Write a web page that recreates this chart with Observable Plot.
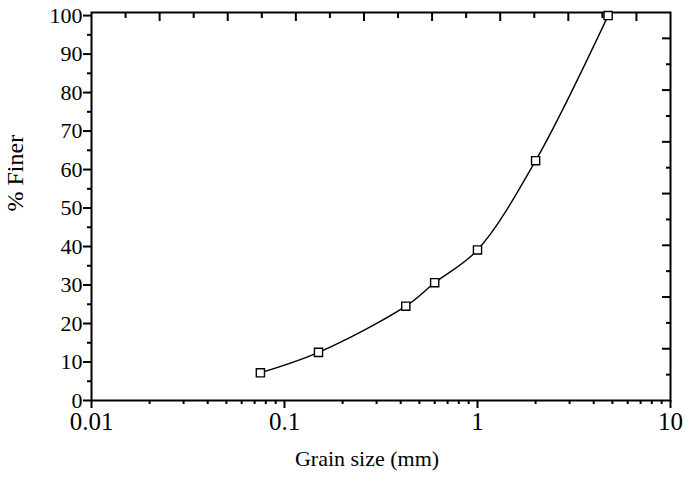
<!DOCTYPE html>
<html>
<head>
<meta charset="utf-8">
<script src="https://cdn.jsdelivr.net/npm/d3@7"></script>
<script src="https://cdn.jsdelivr.net/npm/@observablehq/plot@0.6"></script>
<style>
  html, body { margin: 0; padding: 0; background: #fff; }
  #chart svg { display: block; }
</style>
</head>
<body>
<div id="chart"></div>
<script>
// Data
const grainSize = [0.075, 0.15, 0.425, 0.6, 1.0, 2.0, 4.75];
const percentFiner = [7.2, 12.5, 24.5, 30.6, 39.1, 62.3, 100];

// Tick values
const xMajorTicks = [0.01, 0.1, 1, 10];
const xMinorTicks = [2,3,4,5,6,7,8,9].flatMap(m => [0.01, 0.1, 1].map(d => +(m * d).toFixed(4)));
const yMajorTicks = [0, 10, 20, 30, 40, 50, 60, 70, 80, 90, 100];
const yMinorTicks = [5, 15, 25, 35, 45, 55, 65, 75, 85, 95];

// Unlabelled opposite axes (evenly divided: 17 intervals on top, 15 on the right)
const topIntervals = 17;
const rightIntervals = 15;
const xDomain = [0.01, 10];
const yDomain = [0, 100.8];
const topTicks = d3.range(1, topIntervals).map(k => 10 ** (Math.log10(xDomain[0]) + k * (Math.log10(xDomain[1]) - Math.log10(xDomain[0])) / topIntervals));
const topLong = topTicks.filter((_, i) => (i + 1) % 2 === 0);
const topShort = topTicks.filter((_, i) => (i + 1) % 2 === 1);
const rightTicks = d3.range(1, rightIntervals).map(k => yDomain[0] + k * (yDomain[1] - yDomain[0]) / rightIntervals);
const rightLong = rightTicks.filter((_, i) => (i + 1) % 2 === 0);
const rightShort = rightTicks.filter((_, i) => (i + 1) % 2 === 1);

const data = grainSize.map((g, i) => ({size: g, finer: percentFiner[i]}));

const font = "Liberation Serif";
const empty = () => "";

const chart = Plot.plot({
  width: 685,
  height: 481,
  marginLeft: 91,
  marginRight: 15,
  marginTop: 12,
  marginBottom: 81,
  style: {fontFamily: font, background: "#fff", color: "#000"},
  x: {type: "log", domain: xDomain, axis: null},
  y: {domain: yDomain, axis: null},
  marks: [
    Plot.frame({stroke: "#000", strokeWidth: 2}),
    Plot.axisX(xMajorTicks, {tickSize: 8, strokeWidth: 2, fontSize: 25, tickPadding: 4, tickFormat: d => String(d), label: null, fontFamily: font}),
    Plot.axisX(xMinorTicks, {tickSize: 4, strokeWidth: 2, tickFormat: empty, label: null}),
    Plot.axisX(topLong, {anchor: "top", tickSize: -8, strokeWidth: 2, tickFormat: empty, label: null}),
    Plot.axisX(topShort, {anchor: "top", tickSize: -5, strokeWidth: 2, tickFormat: empty, label: null}),
    Plot.axisY(yMajorTicks, {tickSize: 8, strokeWidth: 2, fontSize: 22, tickPadding: 1, tickFormat: d => String(d), label: null, fontFamily: font}),
    Plot.axisY(yMinorTicks, {tickSize: 4, strokeWidth: 2, tickFormat: empty, label: null}),
    Plot.axisY(rightLong, {anchor: "right", tickSize: -9, strokeWidth: 2, tickFormat: empty, label: null}),
    Plot.axisY(rightShort, {anchor: "right", tickSize: -5, strokeWidth: 2, tickFormat: empty, label: null}),
    Plot.line(data, {x: "size", y: "finer", curve: "catmull-rom", stroke: "#000", strokeWidth: 1.4}),
    Plot.dot(data, {x: "size", y: "finer", symbol: "square", r: 4.6, stroke: "#000", fill: "#fff", strokeWidth: 1.4}),
    Plot.text(["Grain size (mm)"], {frameAnchor: "bottom", dx: -14, dy: 65, fontSize: 22, fill: "#000", fontFamily: font}),
    Plot.text(["% Finer"], {frameAnchor: "left", dx: -76, dy: 5, rotate: -90, fontSize: 24, fill: "#000", fontFamily: font})
  ]
});
document.getElementById("chart").appendChild(chart);
</script>
</body>
</html>
